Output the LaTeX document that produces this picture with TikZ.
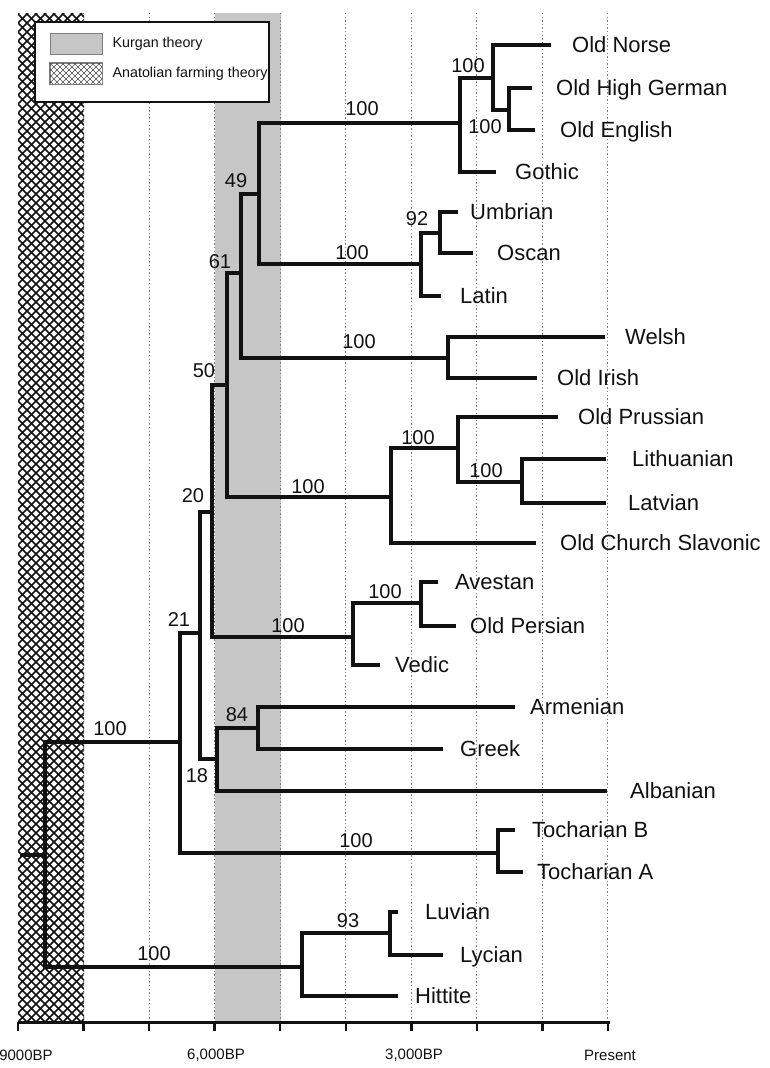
\documentclass[tikz,border=0pt]{standalone}
\usepackage{fontspec}
\setmainfont{Liberation Sans}
\usetikzlibrary{positioning}
\definecolor{treeink}{HTML}{111111}
\definecolor{kurgangray}{HTML}{C6C6C6}
\definecolor{gridgray}{HTML}{7E7E7E}

\begin{document}
\begin{tikzpicture}[
  x=1pt,
  y=-1pt,
  every node/.style={treeink, inner sep=0pt},
  branch/.style={treeink, line width=3.3pt},
  axisline/.style={treeink, line width=3pt},
  tick/.style={treeink, line width=2.4pt},
  guide/.style={gridgray, line width=1pt, dash pattern=on 1.3pt off 2.3pt},
  hatchline/.style={treeink, line width=1.7pt},
  taxon/.style={anchor=west, font=\fontsize{22}{26}\selectfont,
                text height=15.8pt, text depth=0pt},
  boot/.style={font=\fontsize{20}{24}\selectfont,
               text height=14.3pt, text depth=0pt},
  axlabel/.style={font=\fontsize{15}{18}\selectfont},
  legtext/.style={anchor=west, font=\fontsize{14.3}{17}\selectfont},
  swatch/.style={draw=gridgray, line width=0.8pt, minimum width=52pt,
                 minimum height=21pt}
]
  \useasboundingbox (0,0) rectangle (769,1068);

  % ---- Kurgan band ----
  \fill[kurgangray] (215,13) rectangle (281,1022);

  % ---- Anatolian farming band (diamond hatch) ----
  \begin{scope}
    \clip (18,13) rectangle (84,1022);
    \foreach \c in {-1000,-991,...,90}
      \draw[hatchline] (\c,13) -- ++(1100,1100);
    \foreach \c in {10,19,...,1100}
      \draw[hatchline] (\c,13) -- ++(-1100,1100);
  \end{scope}

  % ---- time guides, one every 1000 years ----
  \foreach \k in {1,...,9}
    \draw[guide] ({18+\k*65.55},13) -- ({18+\k*65.55},1022);

  % ---- time axis ----
  \draw[axisline] (18,1022) -- (610,1022);
  \foreach \k in {0,...,9}
    \draw[tick] ({18+\k*65.55},1022) -- ({18+\k*65.55},1031);
  \node[axlabel] (t9) at (26,1055) {9000BP};
  \node[axlabel] (t6) at (216,1055) {6,000BP};
  \node[axlabel] (t3) at (414,1055) {3,000BP};
  \node[axlabel] (t0) at (610,1055) {Present};

  % ---- legend ----
  \draw[treeink, line width=1.8pt, fill=white] (35,22) rectangle (269,102);
  \node[swatch, fill=kurgangray] (swk) at (76,43.5) {};
  \node[swatch] (swa) at (76,73.5) {};
  \begin{scope}
    \clip (swa.south west) rectangle (swa.north east);
    \foreach \c in {-10,-4,...,110}
      \draw[black!70, line width=0.7pt] (\c,63) -- ++(30,30);
    \foreach \c in {40,46,...,160}
      \draw[black!70, line width=0.7pt] (\c,63) -- ++(-30,30);
  \end{scope}
  \draw[gridgray, line width=0.8pt] (swa.south west) rectangle (swa.north east);
  \node[legtext, right=10pt of swk] (legk) {Kurgan theory};
  \node[legtext, right=10pt of swa] (lega) {Anatolian farming theory};

  % ---- internal nodes of the tree ----
  \foreach \nm/\x/\y in {root/45/855, n21/180/742, anat/302/967,
      n20/200/633, tochar/498/853, n50/212/512, n18/217/759,
      n61/227/385, indir/353/637, n49/241/273, balsl/391/497,
      west/259/194, celt/448/358, germ/460/123, ital/421/264,
      nor/493/78, ohgoe/509/110, n92/440/233, balt/458/448,
      litlav/522/482, iran/421/603, n84/258/728, n93/390/933}
    \coordinate (\nm) at (\x,\y);
  \coordinate (base) at (20,855);

  % ---- leaves: tip, then the language name ----
  \foreach \nm/\tx/\lx/\y/\txt in {on/551/572/45/Old Norse,
      ohg/532/556/88/Old High German, oe/535/560/130/Old English,
      got/496/515/172/Gothic, umb/458/470/212/Umbrian,
      osc/473/497/253/Oscan, lat/441/460/296/Latin,
      wel/605/625/337/Welsh, oir/537/557/378/Old Irish,
      opr/558/578/417/Old Prussian, lit/606/632/459/Lithuanian,
      lav/606/628/503/Latvian, ocs/536/560/543/Old Church Slavonic,
      ave/438/455/582/Avestan, ope/456/470/626/Old Persian,
      ved/380/395/665/Vedic, arm/515/530/707/Armenian,
      gre/443/460/749/Greek, alb/607/630/791/Albanian,
      tob/515/532/830/Tocharian B, toa/523/537/872/Tocharian A,
      luv/398/425/912/Luvian, lyc/443/460/955/Lycian,
      hit/398/415/996/Hittite}{
    \coordinate (\nm) at (\tx,\y);
    \node[taxon] (\nm-t) at (\lx,\y) {\txt};
  }

  % ---- branches ----
  \draw[branch] (base) -- (root);
  \foreach \a/\b in {root/n21, root/anat, n21/n20, n21/tochar,
      n20/n50, n20/n18, n50/n61, n50/indir, n61/n49, n61/balsl,
      n49/west, n49/celt, west/germ, west/ital, germ/nor, germ/got,
      nor/on, nor/ohgoe, ohgoe/ohg, ohgoe/oe, ital/n92, ital/lat,
      n92/umb, n92/osc, celt/wel, celt/oir, balsl/balt, balsl/ocs,
      balt/opr, balt/litlav, litlav/lit, litlav/lav, indir/iran,
      indir/ved, iran/ave, iran/ope, n18/n84, n18/alb, n84/arm,
      n84/gre, tochar/tob, tochar/toa, anat/n93, anat/hit,
      n93/luv, n93/lyc}
    \draw[branch] (\a) |- (\b);

  % ---- bootstrap support ----
  \foreach \nm/\x/\y/\v in {b1/110/728/100, b21/179/619/21,
      b20/193/495/20, b50/204/370/50, b61/220/261/61, b49/236/180/49,
      bger/362/108/100, bita/352/252/100, b92/417/218/92,
      bcel/359/341/100, bnor/468/65/100, bohg/485/126/100,
      bbs/308/486/100, bbal/418/437/100, bll/486/470/100,
      bii/288/625/100, bir/385/591/100, b84/237/714/84,
      b18/197/775/18, btoc/356/840/100, b93/348/920/93,
      banat/154/953/100}
    \node[boot] (\nm) at (\x,\y) {\v};
\end{tikzpicture}
\end{document}
